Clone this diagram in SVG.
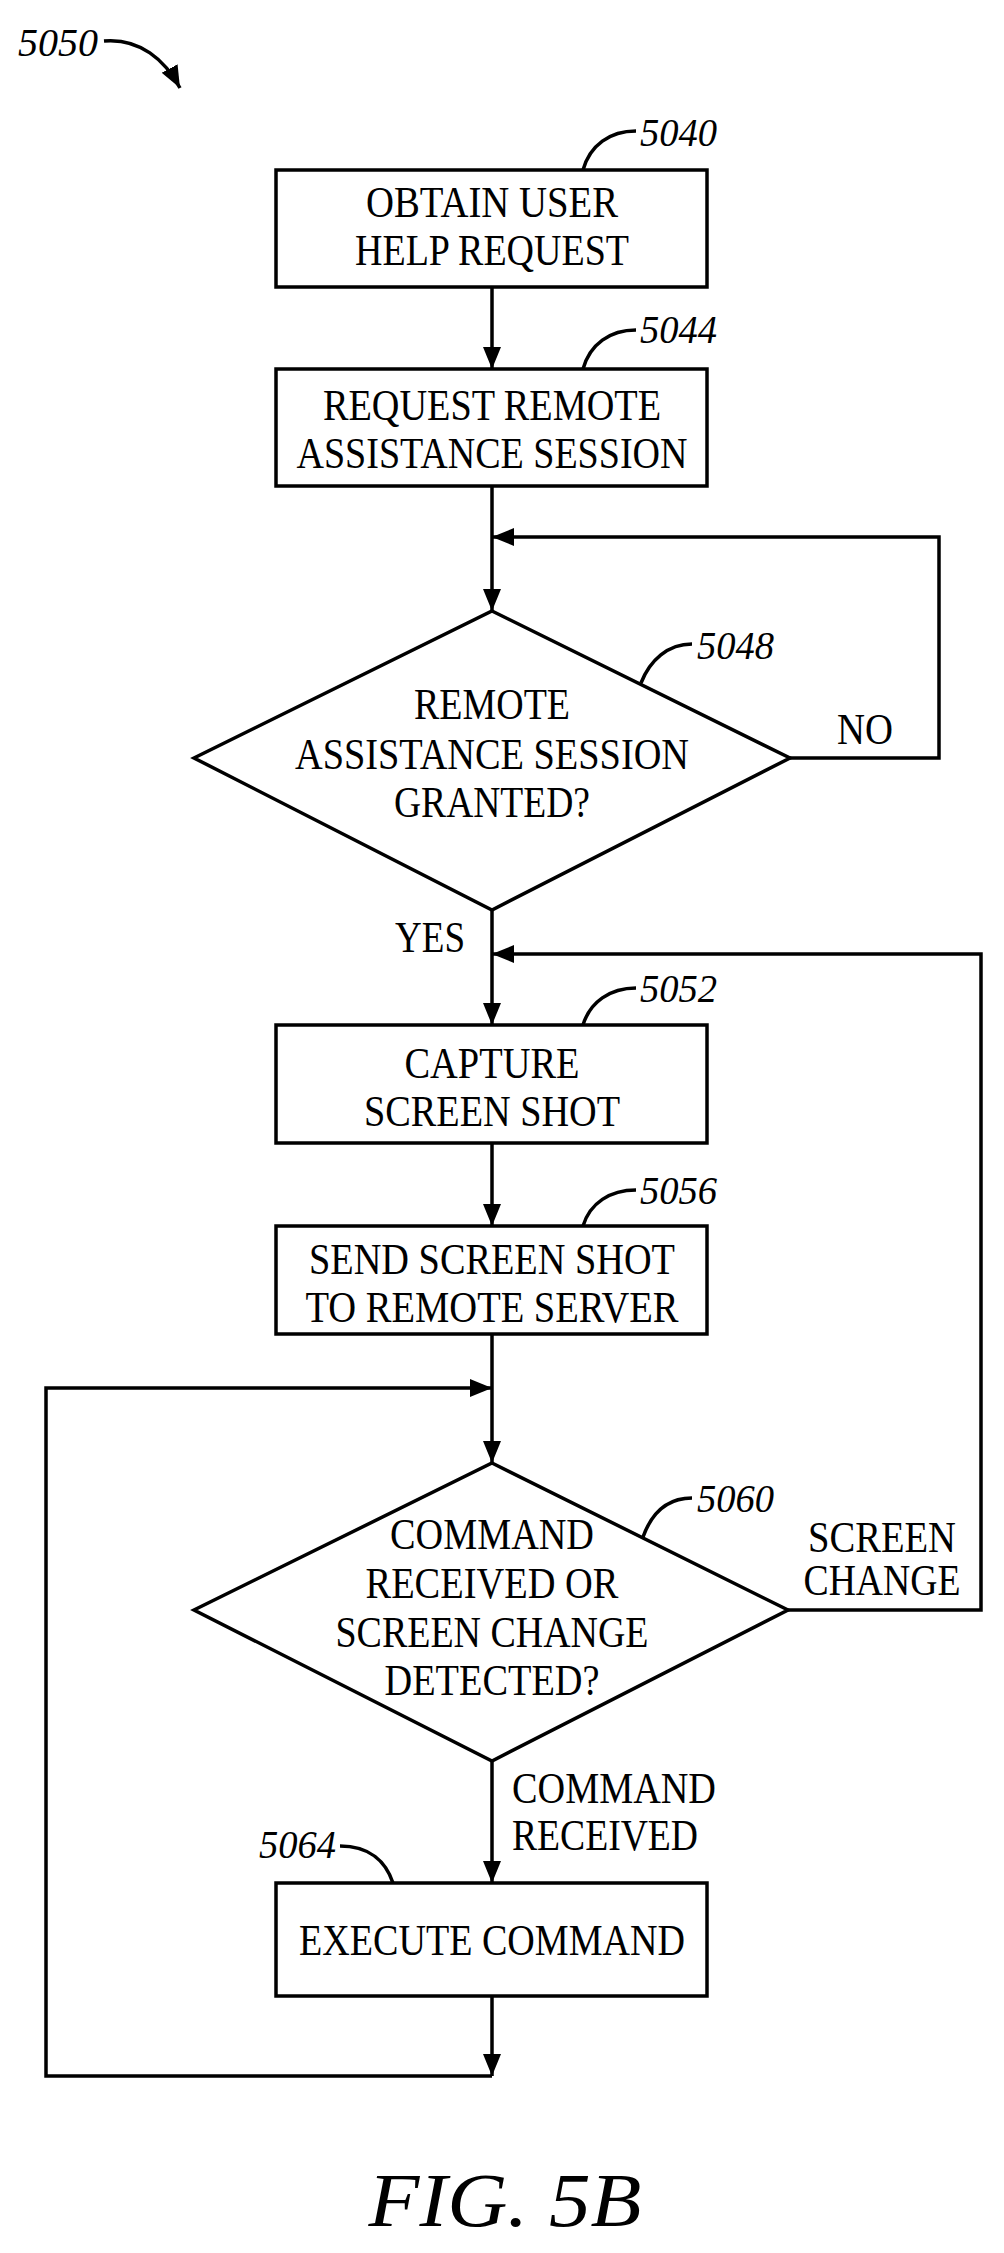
<svg xmlns="http://www.w3.org/2000/svg" width="1004" height="2253" viewBox="0 0 1004 2253">
<style>
.s{fill:none;stroke:#000;stroke-width:3.5}
.t{font-family:"Liberation Serif",serif;font-size:44px;text-anchor:middle}
.l{font-family:"Liberation Serif",serif;font-size:40px;font-style:italic}
</style>
<defs>
<marker id="a" markerUnits="userSpaceOnUse" markerWidth="24" markerHeight="20" refX="22" refY="9" orient="auto"><path d="M0,0 L22,9 L0,18 Z" fill="#000"/></marker>
</defs>
<rect width="1004" height="2253" fill="#fff"/>
<g id="ref5050">
<text class="l" x="18" y="56" textLength="80" lengthAdjust="spacingAndGlyphs">5050</text>
<path class="s" d="M104,41 C140,38 165,60 180,88" stroke-width="2.5" marker-end="url(#a)"/>
</g>
<g id="n5040">
<rect class="s" x="276" y="170" width="431" height="117"/>
<text class="t" x="492" y="217" textLength="252" lengthAdjust="spacingAndGlyphs">OBTAIN USER</text>
<text class="t" x="492" y="265" textLength="274" lengthAdjust="spacingAndGlyphs">HELP REQUEST</text>
<path class="s" stroke-width="2" d="M583,170 C590,145 610,131 636,131"/>
<text class="l" x="640" y="146" textLength="77" lengthAdjust="spacingAndGlyphs">5040</text>
</g>
<g id="n5044">
<rect class="s" x="276" y="369" width="431" height="117"/>
<text class="t" x="492" y="420" textLength="338" lengthAdjust="spacingAndGlyphs">REQUEST REMOTE</text>
<text class="t" x="492" y="468" textLength="391" lengthAdjust="spacingAndGlyphs">ASSISTANCE SESSION</text>
<path class="s" stroke-width="2" d="M583,369 C590,344 610,330 636,330"/>
<text class="l" x="640" y="343" textLength="77" lengthAdjust="spacingAndGlyphs">5044</text>
</g>
<g id="n5048">
<polygon class="s" points="492,611 790,758 492,910 194,758"/>
<text class="t" x="492" y="719" textLength="156" lengthAdjust="spacingAndGlyphs">REMOTE</text>
<text class="t" x="492" y="769" textLength="394" lengthAdjust="spacingAndGlyphs">ASSISTANCE SESSION</text>
<text class="t" x="492" y="817" textLength="196" lengthAdjust="spacingAndGlyphs">GRANTED?</text>
<path class="s" stroke-width="2" d="M641,683 C650,660 668,644 692,644"/>
<text class="l" x="697" y="659" textLength="77" lengthAdjust="spacingAndGlyphs">5048</text>
</g>
<g id="n5052">
<rect class="s" x="276" y="1025" width="431" height="118"/>
<text class="t" x="492" y="1078" textLength="175" lengthAdjust="spacingAndGlyphs">CAPTURE</text>
<text class="t" x="492" y="1126" textLength="256" lengthAdjust="spacingAndGlyphs">SCREEN SHOT</text>
<path class="s" stroke-width="2" d="M583,1025 C590,1002 610,988 636,988"/>
<text class="l" x="640" y="1002" textLength="77" lengthAdjust="spacingAndGlyphs">5052</text>
</g>
<g id="n5056">
<rect class="s" x="276" y="1226" width="431" height="108"/>
<text class="t" x="492" y="1274" textLength="366" lengthAdjust="spacingAndGlyphs">SEND SCREEN SHOT</text>
<text class="t" x="492" y="1322" textLength="373" lengthAdjust="spacingAndGlyphs">TO REMOTE SERVER</text>
<path class="s" stroke-width="2" d="M583,1226 C590,1203 610,1190 636,1190"/>
<text class="l" x="640" y="1204" textLength="77" lengthAdjust="spacingAndGlyphs">5056</text>
</g>
<g id="n5060">
<polygon class="s" points="492,1463 788,1610 492,1761 194,1610"/>
<text class="t" x="492" y="1549" textLength="204" lengthAdjust="spacingAndGlyphs">COMMAND</text>
<text class="t" x="492" y="1598" textLength="253" lengthAdjust="spacingAndGlyphs">RECEIVED OR</text>
<text class="t" x="492" y="1647" textLength="313" lengthAdjust="spacingAndGlyphs">SCREEN CHANGE</text>
<text class="t" x="492" y="1695" textLength="215" lengthAdjust="spacingAndGlyphs">DETECTED?</text>
<path class="s" stroke-width="2" d="M643,1537 C652,1512 668,1498 692,1498"/>
<text class="l" x="697" y="1512" textLength="77" lengthAdjust="spacingAndGlyphs">5060</text>
</g>
<g id="n5064">
<rect class="s" x="276" y="1883" width="431" height="113"/>
<text class="t" x="492" y="1955" textLength="386" lengthAdjust="spacingAndGlyphs">EXECUTE COMMAND</text>
<path class="s" stroke-width="2" d="M393,1883 C386,1862 370,1846 340,1846"/>
<text class="l" x="259" y="1858" textLength="77" lengthAdjust="spacingAndGlyphs">5064</text>
</g>
<g id="connectors">
<path class="s" d="M492,287 V369" marker-end="url(#a)"/>
<path class="s" d="M492,486 V611" marker-end="url(#a)"/>
<path class="s" d="M790,758 H939 V537 H492" marker-end="url(#a)"/>
<path class="s" d="M492,910 V1025" marker-end="url(#a)"/>
<path class="s" d="M788,1610 H981 V954 H492" marker-end="url(#a)"/>
<path class="s" d="M492,1143 V1226" marker-end="url(#a)"/>
<path class="s" d="M492,1334 V1463" marker-end="url(#a)"/>
<path class="s" d="M492,1761 V1883" marker-end="url(#a)"/>
<path class="s" d="M492,1996 V2076" marker-end="url(#a)"/>
<path class="s" d="M492,2076 H46 V1388 H492" marker-end="url(#a)"/>
</g>
<g id="labels">
<text class="t" x="865" y="744" textLength="56" lengthAdjust="spacingAndGlyphs">NO</text>
<text class="t" x="430" y="952" textLength="70" lengthAdjust="spacingAndGlyphs">YES</text>
<text class="t" x="882" y="1552" textLength="148" lengthAdjust="spacingAndGlyphs">SCREEN</text>
<text class="t" x="882" y="1595" textLength="157" lengthAdjust="spacingAndGlyphs">CHANGE</text>
<text class="t" x="614" y="1803" textLength="204" lengthAdjust="spacingAndGlyphs">COMMAND</text>
<text class="t" x="605" y="1850" textLength="186" lengthAdjust="spacingAndGlyphs">RECEIVED</text>
</g>
<text x="505" y="2226" font-family="Liberation Serif,serif" font-size="76" font-style="italic" text-anchor="middle" textLength="273" lengthAdjust="spacingAndGlyphs">FIG. 5B</text>
</svg>
